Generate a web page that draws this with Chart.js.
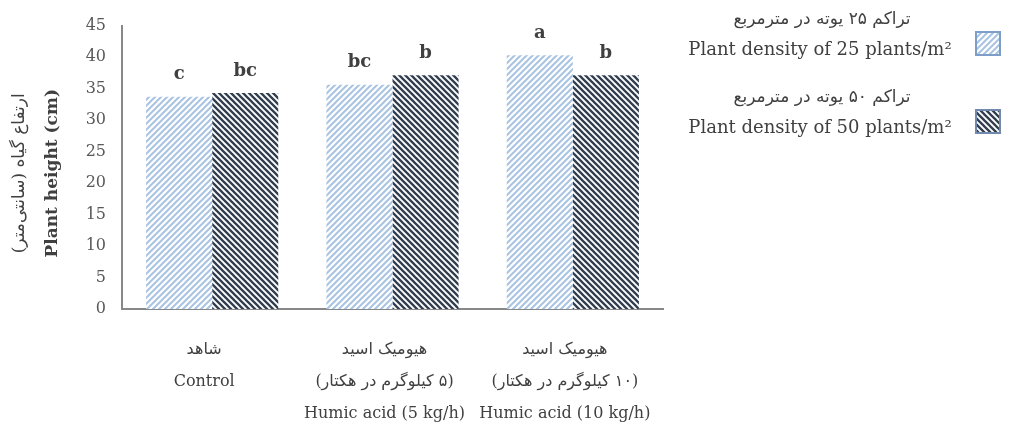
<!DOCTYPE html>
<html>
<head>
<meta charset="UTF-8">
<title>plant height</title>
<script src="https://cdn.jsdelivr.net/npm/chart.js"></script>
<style>
  body { margin: 0; background: #fff; }
  #wrap { width: 1026px; height: 428px; }
</style>
</head>
<body>
<div id="wrap"><canvas id="barChart" width="1026" height="428"></canvas></div>
<script>
// カテゴリ（1行ずつ）
const categories = [
    ['شاهد', 'Control'],
    ['هیومیک اسید', '(۵ کیلوگرم در هکتار)', 'Humic acid (5 kg/h)'],
    ['هیومیک اسید', '(۱۰ کیلوگرم در هکتار)', 'Humic acid (10 kg/h)']
];
const density25 = [33.7, 35.6, 40.3];
const density50 = [34.3, 37.1, 37.1];
const letters25 = ['c', 'bc', 'a'];
const letters50 = ['bc', 'b', 'b'];
const legend25 = ['تراکم ۲۵ یوته در مترمربع', 'Plant density of 25 plants/m²'];
const legend50 = ['تراکم ۵۰ یوته در مترمربع', 'Plant density of 50 plants/m²'];
const yTitle = ['ارتفاع گیاه (سانتی‌متر)', 'Plant height (cm)'];
const yMin = 0, yMax = 45, yStep = 5;

const textFont = "'DejaVu Serif', 'DejaVu Sans', serif";
const isPersian = s => /[\u0600-\u06FF]/.test(s);

// 斜線パターン
function stripes(fg, backslash, lw) {
    const c = document.createElement('canvas');
    c.width = 6; c.height = 6;
    const g = c.getContext('2d');
    g.fillStyle = '#fff';
    g.fillRect(0, 0, 6, 6);
    g.strokeStyle = fg;
    g.lineWidth = lw;
    g.beginPath();
    for (let k = -1; k <= 1; k++) {
        if (backslash) {
            g.moveTo(-1, -1 + 6 * k); g.lineTo(7, 7 + 6 * k);
        } else {
            g.moveTo(-1, 7 + 6 * k); g.lineTo(7, -1 + 6 * k);
        }
    }
    g.stroke();
    return g.createPattern(c, 'repeat');
}
const fill25 = stripes('#a9c3e3', false, 2);
const fill50 = stripes('#323e4f', true, 2.3);

// 棒の上の文字
const barLetters = {
    id: 'barLetters',
    afterDatasetsDraw(chart) {
        const ctx = chart.ctx;
        ctx.save();
        ctx.font = 'bold 18px ' + textFont;
        ctx.fillStyle = '#404040';
        ctx.textAlign = 'center';
        ctx.textBaseline = 'middle';
        [letters25, letters50].forEach(function(letters, d) {
            chart.getDatasetMeta(d).data.forEach(function(bar, i) {
                ctx.fillText(letters[i], bar.x, bar.y - 22);
            });
        });
        ctx.restore();
    }
};

// X軸ラベル、Y軸タイトル、凡例
const extraText = {
    id: 'extraText',
    afterDraw(chart) {
        const ctx = chart.ctx;
        const xs = chart.scales.x;
        ctx.save();
        ctx.fillStyle = '#404040';
        ctx.textAlign = 'center';
        ctx.textBaseline = 'middle';

        categories.forEach(function(lines, i) {
            const x = xs.getPixelForValue(i) - 8;
            lines.forEach(function(line, j) {
                ctx.direction = isPersian(line) ? 'rtl' : 'ltr';
                ctx.font = (isPersian(line) ? '16px ' : '16px ') + textFont;
                ctx.fillText(line, x, xs.top + 41 + j * 32);
            });
        });

        // Y軸タイトル
        const cy = (chart.chartArea.top + chart.chartArea.bottom) / 2 + 6;
        ctx.save();
        ctx.translate(20, cy);
        ctx.rotate(-Math.PI / 2);
        ctx.direction = 'rtl';
        ctx.font = '17px ' + textFont;
        ctx.fillText(yTitle[0], 0, 0);
        ctx.restore();
        ctx.save();
        ctx.translate(53, cy);
        ctx.rotate(-Math.PI / 2);
        ctx.direction = 'ltr';
        ctx.font = 'bold 17px ' + textFont;
        ctx.fillText(yTitle[1], 0, 0);
        ctx.restore();

        // 凡例
        const items = [
            { lines: legend25, fill: fill25, border: '#7d9ec8', y: 20 },
            { lines: legend50, fill: fill50, border: '#7289ad', y: 98 }
        ];
        items.forEach(function(it) {
            ctx.direction = 'rtl';
            ctx.font = '17px ' + textFont;
            ctx.fillText(it.lines[0], 822, it.y);
            ctx.direction = 'ltr';
            ctx.font = '18px ' + textFont;
            ctx.fillText(it.lines[1], 820, it.y + 30);
            ctx.fillStyle = it.fill;
            ctx.fillRect(976, it.y + 12, 24, 23);
            ctx.strokeStyle = it.border;
            ctx.lineWidth = 2;
            ctx.strokeRect(976, it.y + 12, 24, 23);
            ctx.fillStyle = '#404040';
        });
        ctx.restore();
    }
};

new Chart(document.getElementById('barChart'), {
    type: 'bar',
    data: {
        labels: categories,
        datasets: [
            { label: legend25[1], data: density25, backgroundColor: fill25, borderWidth: 0 },
            { label: legend50[1], data: density50, backgroundColor: fill50, borderWidth: 0 }
        ]
    },
    options: {
        responsive: false,
        animation: false,
        layout: { padding: { top: 21, right: 363, left: 0, bottom: 0 } },
        plugins: {
            legend: { display: false },
            tooltip: { enabled: false }
        },
        datasets: {
            bar: { categoryPercentage: 0.733, barPercentage: 1.0 }
        },
        scales: {
            x: {
                grid: { display: false, drawTicks: false },
                border: { display: true, color: '#888888', width: 2 },
                ticks: { display: false },
                afterFit: function(scale) { scale.height = 119; }
            },
            y: {
                min: yMin,
                max: yMax,
                grid: { display: false, drawTicks: false },
                border: { display: true, color: '#888888', width: 2 },
                ticks: {
                    stepSize: yStep,
                    padding: 16,
                    color: '#595959',
                    font: { family: textFont, size: 16 }
                },
                afterFit: function(scale) { scale.width = 122; }
            }
        }
    },
    plugins: [barLetters, extraText]
});
</script>
</body>
</html>
